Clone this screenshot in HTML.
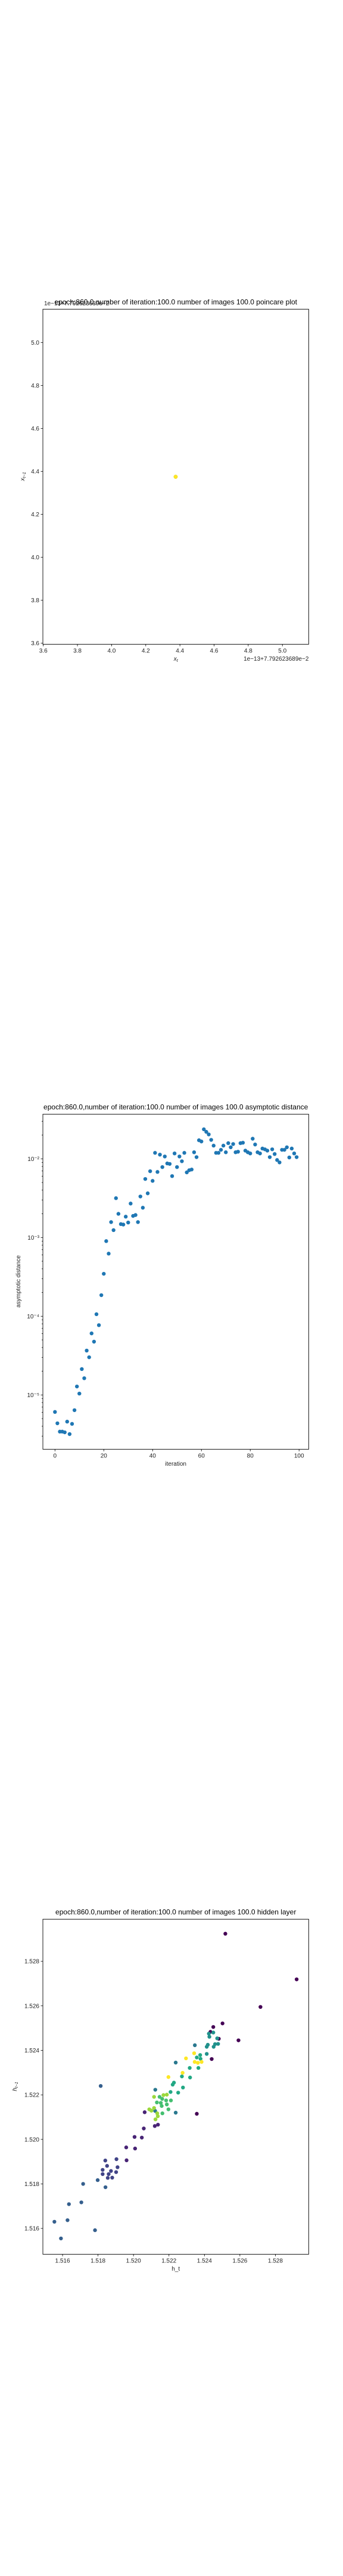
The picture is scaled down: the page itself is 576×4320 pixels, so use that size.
<!DOCTYPE html>
<html><head><meta charset="utf-8"><style>
html,body{margin:0;padding:0;background:#fff;}
svg{display:block;font-family:"Liberation Sans","DejaVu Sans",sans-serif;}
</style></head><body>
<svg id="fig" width="576" height="4320" viewBox="0 0 576 4320" xmlns="http://www.w3.org/2000/svg">
<rect width="576" height="4320" fill="#fff"/>
<g id="p1"></g>
<g id="p2"></g>
<g id="p3"></g>
</svg>
<script>
// ---- Plot 1: poincare plot ----
const p1X = [4.375];
const p1Y = [4.375];
const p1Ticks = [3.6, 3.8, 4.0, 4.2, 4.4, 4.6, 4.8, 5.0];
const p1TickLabels = ["3.6","3.8","4.0","4.2","4.4","4.6","4.8","5.0"];

// ---- Plot 2: asymptotic distance ----
const p2Values = [6.08e-6,4.36e-6,3.42e-6,3.42e-6,3.35e-6,4.58e-6,3.18e-6,4.29e-6,6.40e-6,1.28e-5,
1.04e-5,2.13e-5,1.63e-5,3.66e-5,3.01e-5,6.05e-5,4.75e-5,1.06e-4,7.7e-5,1.85e-4,
3.46e-4,9.0e-4,6.24e-4,1.57e-3,1.24e-3,3.16e-3,2.00e-3,1.48e-3,1.46e-3,1.84e-3,
1.55e-3,2.70e-3,1.88e-3,1.93e-3,1.57e-3,3.32e-3,2.39e-3,5.54e-3,3.64e-3,6.95e-3,
5.24e-3,1.19e-2,6.81e-3,1.13e-2,7.85e-3,1.07e-2,8.73e-3,8.61e-3,6.03e-3,1.17e-2,
7.85e-3,1.07e-2,9.31e-3,1.19e-2,6.72e-3,7.16e-3,7.31e-3,1.21e-2,1.05e-2,1.72e-2,
1.66e-2,2.37e-2,2.20e-2,2.04e-2,1.74e-2,1.47e-2,1.19e-2,1.19e-2,1.30e-2,1.47e-2,
1.21e-2,1.58e-2,1.40e-2,1.54e-2,1.21e-2,1.23e-2,1.58e-2,1.60e-2,1.27e-2,1.21e-2,
1.17e-2,1.80e-2,1.52e-2,1.21e-2,1.17e-2,1.35e-2,1.32e-2,1.27e-2,1.05e-2,1.32e-2,
1.15e-2,9.65e-3,8.99e-3,1.30e-2,1.30e-2,1.40e-2,1.04e-2,1.35e-2,1.17e-2,1.05e-2];
const p2XTicks = [0, 20, 40, 60, 80, 100];
const p2YDecades = [-5, -4, -3, -2];

// ---- Plot 3: hidden layer ----
const p3X = [1.52518,1.52920,1.52716,1.52502,1.52450,1.52434,1.52481,1.52592,1.52441,1.52357,
1.52063,1.52120,1.52138,1.52058,1.52006,1.52047,1.51959,1.52009,1.51961,
1.51841,1.51904,1.51851,1.51910,1.51826,1.51873,1.51826,1.51860,1.51902,1.51855,1.51880,
1.51798,1.51716,1.51842,1.51706,1.51636,1.51554,1.51628,1.51591,1.51783,1.51815,
1.52123,1.52238,1.52238,1.52346,1.52122,
1.52425,1.52450,1.52472,1.52428,1.52477,1.52460,1.52452,1.52413,1.52419,1.52413,
1.52376,1.52357,1.52378,1.52366,1.52317,1.52319,1.52273,1.52279,1.52252,1.52228,1.52221,1.52209,
1.52147,1.52162,1.52184,1.52154,1.52132,1.52188,1.52159,1.52211,1.52197,1.52163,
1.52116,1.52089,1.52101,1.52116,1.52134,1.52137,1.52124,1.52188,1.52169,
1.52342,1.52296,1.52345,1.52363,1.52384,1.52277,1.52197];
const p3Y = [1.52924,1.52719,1.52595,1.52521,1.52505,1.52483,1.52452,1.52445,1.52361,1.52115,
1.52122,1.52060,1.52066,1.52049,1.52011,1.52008,1.51964,1.51959,1.51906,
1.51905,1.51911,1.51881,1.51875,1.51863,1.51858,1.51844,1.51844,1.51853,1.51827,1.51828,
1.51817,1.51800,1.51785,1.51717,1.51709,1.51630,1.51637,1.51555,1.51592,1.52240,
1.52223,1.52345,1.52120,1.52423,1.52128,
1.52475,1.52480,1.52454,1.52461,1.52429,1.52428,1.52416,1.52416,1.52425,1.52384,
1.52379,1.52368,1.52362,1.52321,1.52321,1.52278,1.52283,1.52233,1.52210,1.52255,1.52246,1.52213,
1.52191,1.52182,1.52175,1.52164,1.52166,1.52157,1.52150,1.52175,1.52135,1.52117,
1.52191,1.52135,1.52129,1.52141,1.52117,1.52104,1.52090,1.52201,1.52199,
1.52387,1.52364,1.52348,1.52344,1.52348,1.52299,1.52280];
const p3C = [0,0,0,0,0,0,0,0,0,0,
0.1,0.1,0.1,0.1,0.1,0.1,0.1,0.1,0.1,
0.2,0.2,0.2,0.2,0.2,0.2,0.2,0.2,0.2,0.2,0.2,
0.3,0.3,0.3,0.3,0.3,0.3,0.3,0.3,0.3,0.3,
0.4,0.4,0.4,0.4,0.4,
0.5,0.5,0.5,0.5,0.5,0.5,0.5,0.5,0.5,0.5,
0.6,0.6,0.6,0.6,0.6,0.6,0.6,0.6,0.6,0.6,0.6,0.6,
0.7,0.7,0.7,0.7,0.7,0.7,0.7,0.7,0.7,0.7,
0.85,0.85,0.85,0.85,0.85,0.85,0.85,0.85,0.85,
1,1,1,1,1,1,1];
const p3Ticks = [1.516,1.518,1.520,1.522,1.524,1.526,1.528];
const p3TickLabels = ["1.516","1.518","1.520","1.522","1.524","1.526","1.528"];

const NS = "http://www.w3.org/2000/svg";
function mk(parent, tag, attrs, text){
  const e = document.createElementNS(NS, tag);
  for (const k in attrs) e.setAttribute(k, attrs[k]);
  if (text !== undefined) e.textContent = text;
  parent.appendChild(e);
  return e;
}
const VIR = [[0,[68,1,84]],[0.1,[72,36,117]],[0.2,[65,68,135]],[0.3,[53,95,141]],[0.4,[42,120,142]],[0.5,[33,145,140]],[0.6,[34,168,132]],[0.7,[68,191,112]],[0.8,[122,209,81]],[0.9,[189,223,38]],[1,[253,231,37]]];
function viridis(t){
  for (let i=1;i<VIR.length;i++){ if (t<=VIR[i][0]+1e-9){ const a=VIR[i-1],b=VIR[i]; const f=(t-a[0])/(b[0]-a[0]); const c=a[1].map((v,j)=>Math.round(v+(b[1][j]-v)*f)); return "rgb("+c.join(",")+")"; } }
  return "rgb(253,231,37)";
}
const L=72, R=518.4;

function frame(g, top, bottom, title, titleY){
  const fr = mk(g,"rect",{x:L,y:top,width:R-L,height:bottom-top,fill:"none",stroke:"#000","stroke-width":0.9});
  
  
  const t = mk(g,"text",{x:(L+R)/2,y:titleY,"text-anchor":"middle","font-size":12,fill:"#000"},title);
  
  
}
function xtick(g, x, bottom, label){
  const l = mk(g,"line",{x1:x,x2:x,y1:bottom,y2:bottom+3.5,stroke:"#000","stroke-width":0.8});
  
  
  const t = mk(g,"text",{x:x,y:bottom+14,"text-anchor":"middle","font-size":10,fill:"#222"},label);
  
  
}
function ytick(g, y, label, len){
  const l = mk(g,"line",{x1:L-(len||3.5),x2:L,y1:y,y2:y,stroke:"#000","stroke-width":0.8});
  
  
  if (label!==null){
    const t = mk(g,"text",{x:L-6,y:y+3.5,"text-anchor":"end","font-size":10,fill:"#222"},label);
    
    
  }
}

// Plot 1
(function(){
  const g=document.getElementById('p1');
  const top=518.6, bottom=1080.4;
  const xmin=3.5976, xmax=5.154, ymin=3.5953, ymax=5.155;
  const sx=v=>L+(v-xmin)/(xmax-xmin)*(R-L);
  const sy=v=>bottom-(v-ymin)/(ymax-ymin)*(bottom-top);
  frame(g,top,bottom,"epoch:860.0,number of iteration:100.0 number of images 100.0 poincare plot",510.7);
  const off = mk(g,"text",{x:L+2,y:512,"font-size":10,fill:"#222"},"1e\u221213+7.792623689e\u22122");
  
  
  p1Ticks.forEach((v,i)=>{ xtick(g,sx(v),bottom,p1TickLabels[i]); ytick(g,sy(v),p1TickLabels[i]); });
  const xo = mk(g,"text",{x:R,y:1108,"text-anchor":"end","font-size":10,fill:"#222"},"1e\u221213+7.792623689e\u22122");
  
  
  const xl = mk(g,"text",{x:(L+R)/2,y:1108,"text-anchor":"middle","font-size":10,"font-style":"italic",fill:"#222"},"x");
  
  
  mk(xl,"tspan",{"font-size":7,dy:2},"t");
  const yl = mk(g,"text",{transform:"translate(41,799) rotate(-90)","text-anchor":"middle","font-size":10,"font-style":"italic",fill:"#222"},"x");
  
  
  mk(yl,"tspan",{"font-size":7,dy:2},"t\u22121");
  p1X.forEach((v,i)=>{
    const c = mk(g,"circle",{cx:sx(v),cy:sy(p1Y[i]),r:3.2,fill:"#fde725",stroke:"#e8d21f","stroke-width":0.5});
    
    
  });
})();

// Plot 2
(function(){
  const g=document.getElementById('p2');
  const top=1868.6, bottom=2430.4;
  const xmin=-4.95, xmax=103.95, lmin=-5.690, lmax=-1.434;
  const sx=v=>L+(v-xmin)/(xmax-xmin)*(R-L);
  const sy=v=>bottom-(Math.log10(v)-lmin)/(lmax-lmin)*(bottom-top);
  frame(g,top,bottom,"epoch:860.0,number of iteration:100.0  number of images 100.0 asymptotic distance",1860.6);
  p2XTicks.forEach(v=>xtick(g,sx(v),bottom,String(v)));
  const sup={"-5":"\u207B\u2075","-4":"\u207B\u2074","-3":"\u207B\u00B3","-2":"\u207B\u00B2"};
  for (let d=-6; d<=-1; d++){
    for (let m=1;m<10;m++){
      const v=m*Math.pow(10,d); const lv=Math.log10(v);
      if (lv<lmin||lv>lmax) continue;
      if (m===1) ytick(g,sy(v),"10"+sup[String(d)]);
      else ytick(g,sy(v),null,2);
    }
  }
  const xl = mk(g,"text",{x:(L+R)/2,y:2458,"text-anchor":"middle","font-size":10,fill:"#222"},"iteration");
  
  
  const yl = mk(g,"text",{transform:"translate(34,2149) rotate(-90)","text-anchor":"middle","font-size":10,fill:"#222"},"asymptotic distance");
  
  
  p2Values.forEach((v,i)=>{
    const c = mk(g,"circle",{cx:sx(i),cy:sy(v),r:3.2,fill:"#1f77b4"});
    
    
  });
})();

// Plot 3
(function(){
  const g=document.getElementById('p3');
  const top=3218.6, bottom=3780.4;
  const xmin=1.51489, xmax=1.52988, ymin=1.51484, ymax=1.52989;
  const sx=v=>L+(v-xmin)/(xmax-xmin)*(R-L);
  const sy=v=>bottom-(v-ymin)/(ymax-ymin)*(bottom-top);
  frame(g,top,bottom,"epoch:860.0,number of iteration:100.0  number of images 100.0 hidden layer",3210.6);
  p3Ticks.forEach((v,i)=>{ xtick(g,sx(v),bottom,p3TickLabels[i]); ytick(g,sy(v),p3TickLabels[i]); });
  const xl = mk(g,"text",{x:(L+R)/2,y:3808,"text-anchor":"middle","font-size":10,fill:"#222"},"h_t");
  
  
  const yl = mk(g,"text",{transform:"translate(28,3499) rotate(-90)","text-anchor":"middle","font-size":10,"font-style":"italic",fill:"#222"},"h");
  
  
  mk(yl,"tspan",{"font-size":7,dy:2},"t\u22121");
  p3X.forEach((v,i)=>{
    const c = mk(g,"circle",{cx:sx(v),cy:sy(p3Y[i]),r:3.2,fill:viridis(p3C[i])});
    
    
  });
})();
</script>
</body></html>
